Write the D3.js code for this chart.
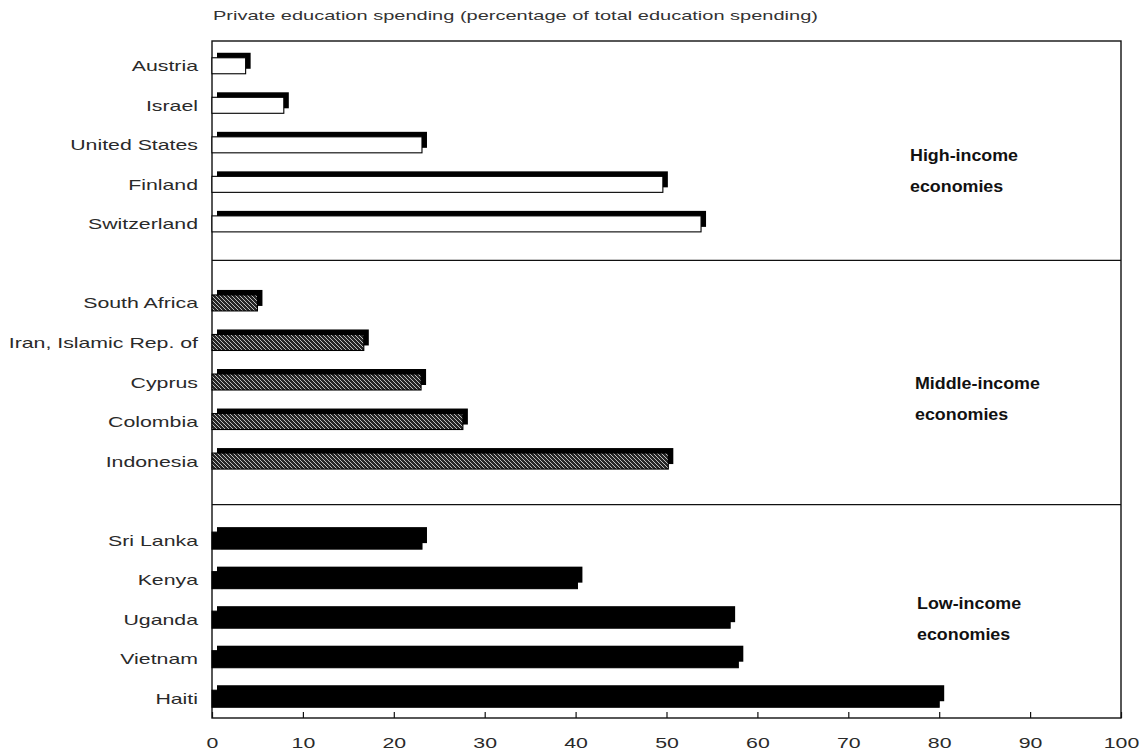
<!DOCTYPE html>
<html>
<head>
<meta charset="utf-8">
<script src="https://cdn.jsdelivr.net/npm/d3@7/dist/d3.min.js"></script>
<style>
  html, body { margin: 0; padding: 0; background: #fff; }
  svg { display: block; }
</style>
</head>
<body>
<svg id="chart" width="1143" height="754"></svg>
<script>
// ---- data ----
const highCountries = ["Austria", "Israel", "United States", "Finland", "Switzerland"];
const highValues = [3.7, 7.9, 23.1, 49.6, 53.8];
const middleCountries = ["South Africa", "Iran, Islamic Rep. of", "Cyprus", "Colombia", "Indonesia"];
const middleValues = [5.0, 16.7, 23.0, 27.6, 50.2];
const lowCountries = ["Sri Lanka", "Kenya", "Uganda", "Vietnam", "Haiti"];
const lowValues = [23.1, 40.2, 57.0, 57.9, 80.0];
const groupNames = ["high", "middle", "low"];
const groupLabels = [["High-income", "economies"], ["Middle-income", "economies"], ["Low-income", "economies"]];
const xTickValues = [0, 10, 20, 30, 40, 50, 60, 70, 80, 90, 100];
const titleText = "Private education spending (percentage of total education spending)";

// ---- layout ----
const frame = { left: 212, right: 1121, top: 41, bottom: 718 };
const svg = d3.select("#chart");
const FONT = "'Liberation Sans', Arial, sans-serif";
const SX = 1.42; // horizontal stretch of the scanned lettering

const rows = [];
[highCountries, middleCountries, lowCountries].forEach((cs, g) => {
  const vs = [highValues, middleValues, lowValues][g];
  cs.forEach((c, i) => rows.push({ name: c, value: vs[i], group: groupNames[g] }));
});
const slotDomain = [...highCountries, "__gap1", ...middleCountries, "__gap2", ...lowCountries];

const x = d3.scaleLinear().domain([0, 100]).range([frame.left, frame.right]);
const y = d3.scaleBand().domain(slotDomain).range([46, 718]);
const yc = d => y(d) + y.bandwidth() / 2;

// hatch pattern for middle-income bars
const defs = svg.append("defs");
const pat = defs.append("pattern").attr("id", "hatch")
  .attr("patternUnits", "userSpaceOnUse").attr("width", 4).attr("height", 4);
pat.append("rect").attr("width", 4).attr("height", 4).attr("fill", "#262626");
pat.append("path").attr("d", "M-1,-1 L5,5 M-1,3 L1,5 M3,-1 L5,1")
  .attr("stroke", "#cfcfcf").attr("stroke-width", 0.9);

// title
svg.append("text")
  .attr("x", 213).attr("y", 20)
  .attr("font-family", FONT).attr("font-size", 13.5).attr("fill", "#333")
  .attr("textLength", 605).attr("lengthAdjust", "spacingAndGlyphs")
  .text(titleText);

// frame
svg.append("rect")
  .attr("x", frame.left).attr("y", frame.top)
  .attr("width", frame.right - frame.left).attr("height", frame.bottom - frame.top)
  .attr("fill", "none").attr("stroke", "#111").attr("stroke-width", 1.4);

// group separators
["__gap1", "__gap2"].forEach((gk, i) => {
  const yy = yc(gk) + (i === 0 ? -3 : 4);
  svg.append("line")
    .attr("x1", frame.left).attr("x2", frame.right)
    .attr("y1", yy).attr("y2", yy)
    .attr("stroke", "#111").attr("stroke-width", 1.2);
});

// bars
const BH = 16, OFF = 5;
const fills = { high: "#fff", middle: "url(#hatch)", low: "#000" };
const barG = svg.append("g");
// shadows
barG.selectAll("rect.shadow").data(rows).join("rect")
  .attr("class", "shadow")
  .attr("x", x(0) + OFF).attr("y", d => yc(d.name) - BH / 2 - OFF)
  .attr("width", d => x(d.value) - x(0)).attr("height", BH)
  .attr("fill", "#000");
// front bars
barG.selectAll("rect.front").data(rows).join("rect")
  .attr("class", "front")
  .attr("x", x(0)).attr("y", d => yc(d.name) - BH / 2)
  .attr("width", d => x(d.value) - x(0)).attr("height", d => d.group === "low" ? BH + 1 : BH)
  .attr("fill", d => fills[d.group])
  .attr("stroke", "#000").attr("stroke-width", 1.1);

// category labels
svg.append("g").selectAll("text").data(rows).join("text")
  .attr("transform", d => `translate(198,${yc(d.name) + 5.5}) scale(${SX},1)`)
  .attr("text-anchor", "end")
  .attr("font-family", FONT).attr("font-size", 15).attr("fill", "#2a2a2a")
  .text(d => d.name);

// x axis
const axis = d3.axisBottom(x).tickValues(xTickValues).tickSize(-6).tickPadding(0).tickFormat(d3.format("d"));
const axG = svg.append("g").attr("transform", `translate(0,${frame.bottom})`).call(axis);
axG.select(".domain").remove();
axG.selectAll(".tick line").attr("stroke", "#111").attr("stroke-width", 1.2);
axG.selectAll(".tick text")
  .attr("y", 0).attr("dy", 0)
  .attr("transform", `translate(0,30) scale(${SX},1)`)
  .attr("font-family", FONT).attr("font-size", 15).attr("fill", "#2a2a2a");

// group annotations
const annAnchors = [
  { x: 910, y1: 161 },
  { x: 915, y1: 389 },
  { x: 917, y1: 609 }
];
groupLabels.forEach((lines, g) => {
  lines.forEach((t, k) => {
    svg.append("text")
      .attr("transform", `translate(${annAnchors[g].x},${annAnchors[g].y1 + k * 31}) scale(1.05,1)`)
      .attr("font-family", FONT).attr("font-weight", "bold").attr("font-size", 17).attr("fill", "#111")
      .text(t);
  });
});
</script>
</body>
</html>
